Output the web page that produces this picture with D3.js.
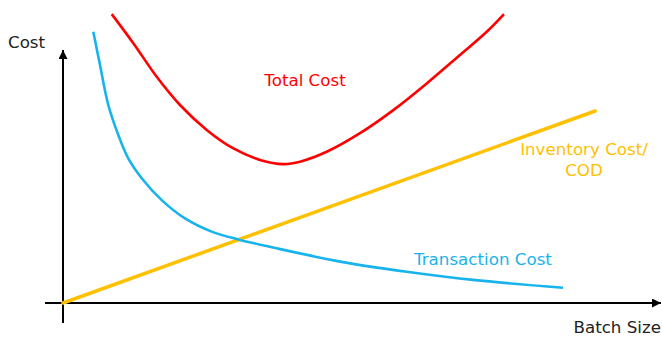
<!DOCTYPE html>
<html>
<head>
<meta charset="utf-8">
<script src="https://cdn.jsdelivr.net/npm/d3@7"></script>
<style>
  html, body { margin: 0; padding: 0; background: #fff; }
  svg { display: block; }
  text { font-family: "DejaVu Sans", Verdana, sans-serif; font-size: 16.7px; }
</style>
</head>
<body>
<svg id="chart" width="662" height="338"></svg>
<script>
// Batch size (x) vs cost (y), in arbitrary units
const transactionX = [0.505, 0.617, 0.755, 0.922, 1.088, 1.312, 1.645, 2.033, 2.478, 2.922, 3.5, 4.617, 5.728, 6.833, 8.333];
const transactionY = [9.04, 7.93, 6.6, 5.6, 4.82, 4.16, 3.43, 2.82, 2.38, 2.12, 1.85, 1.38, 1.04, 0.77, 0.51];

const totalX = [0.812, 1.172, 1.562, 1.95, 2.395, 2.833, 3.283, 3.672, 3.95, 4.395, 4.95, 5.505, 6.062, 6.617, 7.062, 7.35];
const totalY = [9.63, 8.66, 7.54, 6.6, 5.77, 5.16, 4.77, 4.63, 4.71, 5.04, 5.66, 6.43, 7.32, 8.27, 9.04, 9.63];

const inventoryX = [0, 8.87];
const inventoryY = [0, 6.4];

const axisLabels = { x: "Batch Size", y: "Cost" };
const seriesLabels = ["Total Cost", "Inventory Cost/", "COD", "Transaction Cost"];

const svg = d3.select("#chart");

const x = d3.scaleLinear().domain([0, 10]).range([63, 663]);
const y = d3.scaleLinear().domain([0, 10]).range([303, 3]);

const zip = (xs, ys) => xs.map((v, i) => [v, ys[i]]);

// Axes with arrowheads
const defs = svg.append("defs");
defs.append("marker")
  .attr("id", "arrow")
  .attr("viewBox", "0 0 10 10")
  .attr("refX", 10).attr("refY", 5)
  .attr("markerWidth", 4.5).attr("markerHeight", 4.5)
  .attr("orient", "auto")
  .append("path").attr("d", "M0,0 L10,5 L0,10 z").attr("fill", "#000");

svg.append("line")
  .attr("x1", 45).attr("x2", 661)
  .attr("y1", y(0)).attr("y2", y(0))
  .attr("stroke", "#000").attr("stroke-width", 2)
  .attr("marker-end", "url(#arrow)");

svg.append("line")
  .attr("x1", x(0)).attr("x2", x(0))
  .attr("y1", 323).attr("y2", 50)
  .attr("stroke", "#000").attr("stroke-width", 2)
  .attr("marker-end", "url(#arrow)");

const line = d3.line()
  .x(d => x(d[0]))
  .y(d => y(d[1]))
  .curve(d3.curveCatmullRom.alpha(0.5));

svg.append("path")
  .datum(zip(inventoryX, inventoryY))
  .attr("d", d3.line().x(d => x(d[0])).y(d => y(d[1])))
  .attr("fill", "none").attr("stroke", "#ffc000").attr("stroke-width", 3.5)
  .attr("stroke-linecap", "round");

svg.append("path")
  .datum(zip(transactionX, transactionY))
  .attr("d", line)
  .attr("fill", "none").attr("stroke", "#17b3ec").attr("stroke-width", 2.6);

svg.append("path")
  .datum(zip(totalX, totalY))
  .attr("d", line)
  .attr("fill", "none").attr("stroke", "#ff0000").attr("stroke-width", 2.6);

// Labels
svg.append("text").attr("x", 8).attr("y", 48).attr("fill", "#222").text(axisLabels.y);
svg.append("text").attr("x", 661).attr("y", 333).attr("text-anchor", "end").attr("fill", "#222").text(axisLabels.x);

svg.append("text").attr("x", 305).attr("y", 86).attr("text-anchor", "middle")
  .attr("fill", "#ff0000").text(seriesLabels[0]);
svg.append("text").attr("x", 584).attr("y", 155).attr("text-anchor", "middle")
  .attr("fill", "#ffc000").text(seriesLabels[1]);
svg.append("text").attr("x", 584).attr("y", 176).attr("text-anchor", "middle")
  .attr("fill", "#ffc000").text(seriesLabels[2]);
svg.append("text").attr("x", 414).attr("y", 265)
  .attr("fill", "#17b3ec").text(seriesLabels[3]);
</script>
</body>
</html>
